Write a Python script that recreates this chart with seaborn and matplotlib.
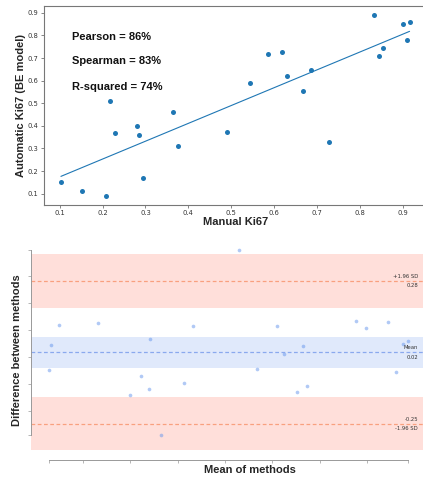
import numpy as np
import pandas as pd
import matplotlib
matplotlib.use("Agg")
import matplotlib.pyplot as plt
import matplotlib.transforms as mtransforms
import seaborn as sns

# ---- data ----
manual_ki67 = [0.103, 0.153, 0.208, 0.218, 0.229, 0.280, 0.286, 0.294, 0.364, 0.375,
               0.490, 0.545, 0.587, 0.619, 0.631, 0.667, 0.687, 0.728, 0.834, 0.844,
               0.853, 0.900, 0.910, 0.916]
auto_ki67 = [0.152, 0.110, 0.090, 0.510, 0.370, 0.400, 0.358, 0.170, 0.462, 0.310,
             0.375, 0.590, 0.717, 0.727, 0.620, 0.552, 0.645, 0.330, 0.890, 0.710,
             0.745, 0.852, 0.780, 0.858]
stat_labels = ["Pearson = 86%", "Spearman = 83%", "R-squared = 74%"]
top_ticks = [0.1, 0.2, 0.3, 0.4, 0.5, 0.6, 0.7, 0.8, 0.9]
loa_factor = 1.96
t_975_df23 = 2.0687  # Student t quantile (95% CI, n-1 = 23)

sns.set_theme(style="ticks")
plt.rcParams["font.family"] = ["DejaVu Sans"]

W, H = 423, 478
fig = plt.figure(figsize=(W / 100, H / 100), dpi=100)
fig.patch.set_facecolor("white")

label_font = dict(family=["Liberation Sans", "DejaVu Sans"], fontweight="bold", fontsize=8)

# ---------------- top: correlation scatter ----------------
ax1 = fig.add_axes([43.5 / W, (H - 205) / H, (427 - 43.5) / W, 199 / H])
df = pd.DataFrame({"manual": manual_ki67, "auto": auto_ki67})
sns.regplot(data=df, x="manual", y="auto", ax=ax1, ci=None, color="#1f77b4",
            scatter_kws=dict(s=13, linewidths=0, alpha=1),
            line_kws=dict(lw=0.8))
ax1.set_xticks(top_ticks)
ax1.set_yticks(top_ticks)
ax1.set_xticklabels([f"{t:.1f}" for t in top_ticks])
ax1.set_yticklabels([f"{t:.1f}" for t in top_ticks])
ax1.tick_params(axis="both", labelsize=4.9, length=2, width=0.5, pad=1.5,
                colors="#555555", labelcolor="#333333")
for sp in ax1.spines.values():
    sp.set_visible(True)
    sp.set_color("#777777")
    sp.set_linewidth(0.8)
ax1.set_xlabel("Manual Ki67", labelpad=1.0, **label_font)
ax1.set_ylabel("Automatic Ki67 (BE model)", labelpad=1.5, **label_font)
for lab, yy in zip(stat_labels, [0.846, 0.722, 0.594]):
    ax1.text(0.074, yy, lab, transform=ax1.transAxes, va="center", ha="left",
             color="#111111", **label_font)

# ---------------- bottom: Bland-Altman ----------------
m = np.asarray(manual_ki67)
a = np.asarray(auto_ki67)
mean = (m + a) / 2
diff = m - a
n = len(diff)
md = diff.mean()
sd = diff.std()  # ddof=0
upper = md + loa_factor * sd
lower = md - loa_factor * sd
ci_mean = t_975_df23 * sd / np.sqrt(n)
se_loa = ((1 / n) + (loa_factor ** 2 / (2 * (n - 1)))) * sd ** 2
loa_range = t_975_df23 * np.sqrt(se_loa)

mean_col = "#6495ED"
loa_col = "#FF6347"

ax2 = fig.add_axes([30.7 / W, (H - 460.3) / H, (426 - 30.7) / W, 220.6 / H])
ax2.set_facecolor("none")
ax2.axhspan(md - ci_mean, md + ci_mean, facecolor=mean_col, alpha=0.2, lw=0)
ax2.axhspan(upper - loa_range, upper + loa_range, facecolor=loa_col, alpha=0.2, lw=0)
ax2.axhspan(lower - loa_range, lower + loa_range, facecolor=loa_col, alpha=0.2, lw=0)
ax2.axhline(md, color="#8aa9ee", ls=(0, (3, 2)), lw=0.9)
ax2.axhline(upper, color="#f9a07f", ls=(0, (3, 2)), lw=0.9)
ax2.axhline(lower, color="#f9a07f", ls=(0, (3, 2)), lw=0.9)
sns.scatterplot(x=mean, y=diff, ax=ax2, color=mean_col, alpha=0.5, s=7,
                linewidth=0, legend=False)

trans = mtransforms.blended_transform_factory(ax2.transAxes, ax2.transData)
off = ((upper - lower) / 100.0) * 1.5
tkw = dict(transform=trans, ha="right", fontsize=3.8, color="#333333")
ax2.text(0.98, md + off, "Mean", va="bottom", **tkw)
ax2.text(0.98, md - off, f"{md:.2f}", va="top", **tkw)
ax2.text(0.98, upper + off, f"+{loa_factor:.2f} SD", va="bottom", **tkw)
ax2.text(0.98, upper - off, f"{upper:.2f}", va="top", **tkw)
ax2.text(0.98, lower - off, f"-{loa_factor:.2f} SD", va="top", **tkw)
ax2.text(0.98, lower + off, f"{lower:.2f}", va="bottom", **tkw)

ax2.spines["left"].set_bounds(diff.min(), diff.max())
ax2.spines["bottom"].set_bounds(mean.min(), mean.max())
ax2.spines["right"].set_visible(False)
ax2.spines["top"].set_visible(False)
for s in ("left", "bottom"):
    ax2.spines[s].set_color("#999999")
    ax2.spines[s].set_linewidth(0.7)
xt = [mean.min()] + [v for v in np.round(np.arange(0.1, 1.0, 0.1), 1)
                     if mean.min() < v < mean.max()] + [mean.max()]
yt = [diff.min()] + [v for v in np.round(np.arange(-0.4, 0.5, 0.1), 1)
                     if diff.min() < v < diff.max()] + [diff.max()]
ax2.set_xticks(xt)
ax2.set_yticks(yt)
ax2.tick_params(axis="both", length=2.2, width=0.5, colors="#999999",
                labelbottom=False, labelleft=False)
ax2.set_xlabel("Mean of methods", labelpad=1.0, **label_font)
ax2.xaxis.label.set_x(0.555)
ax2.set_ylabel("Difference between methods", labelpad=3.9, **label_font)

fig.savefig("out.png", dpi=100, facecolor="white")
